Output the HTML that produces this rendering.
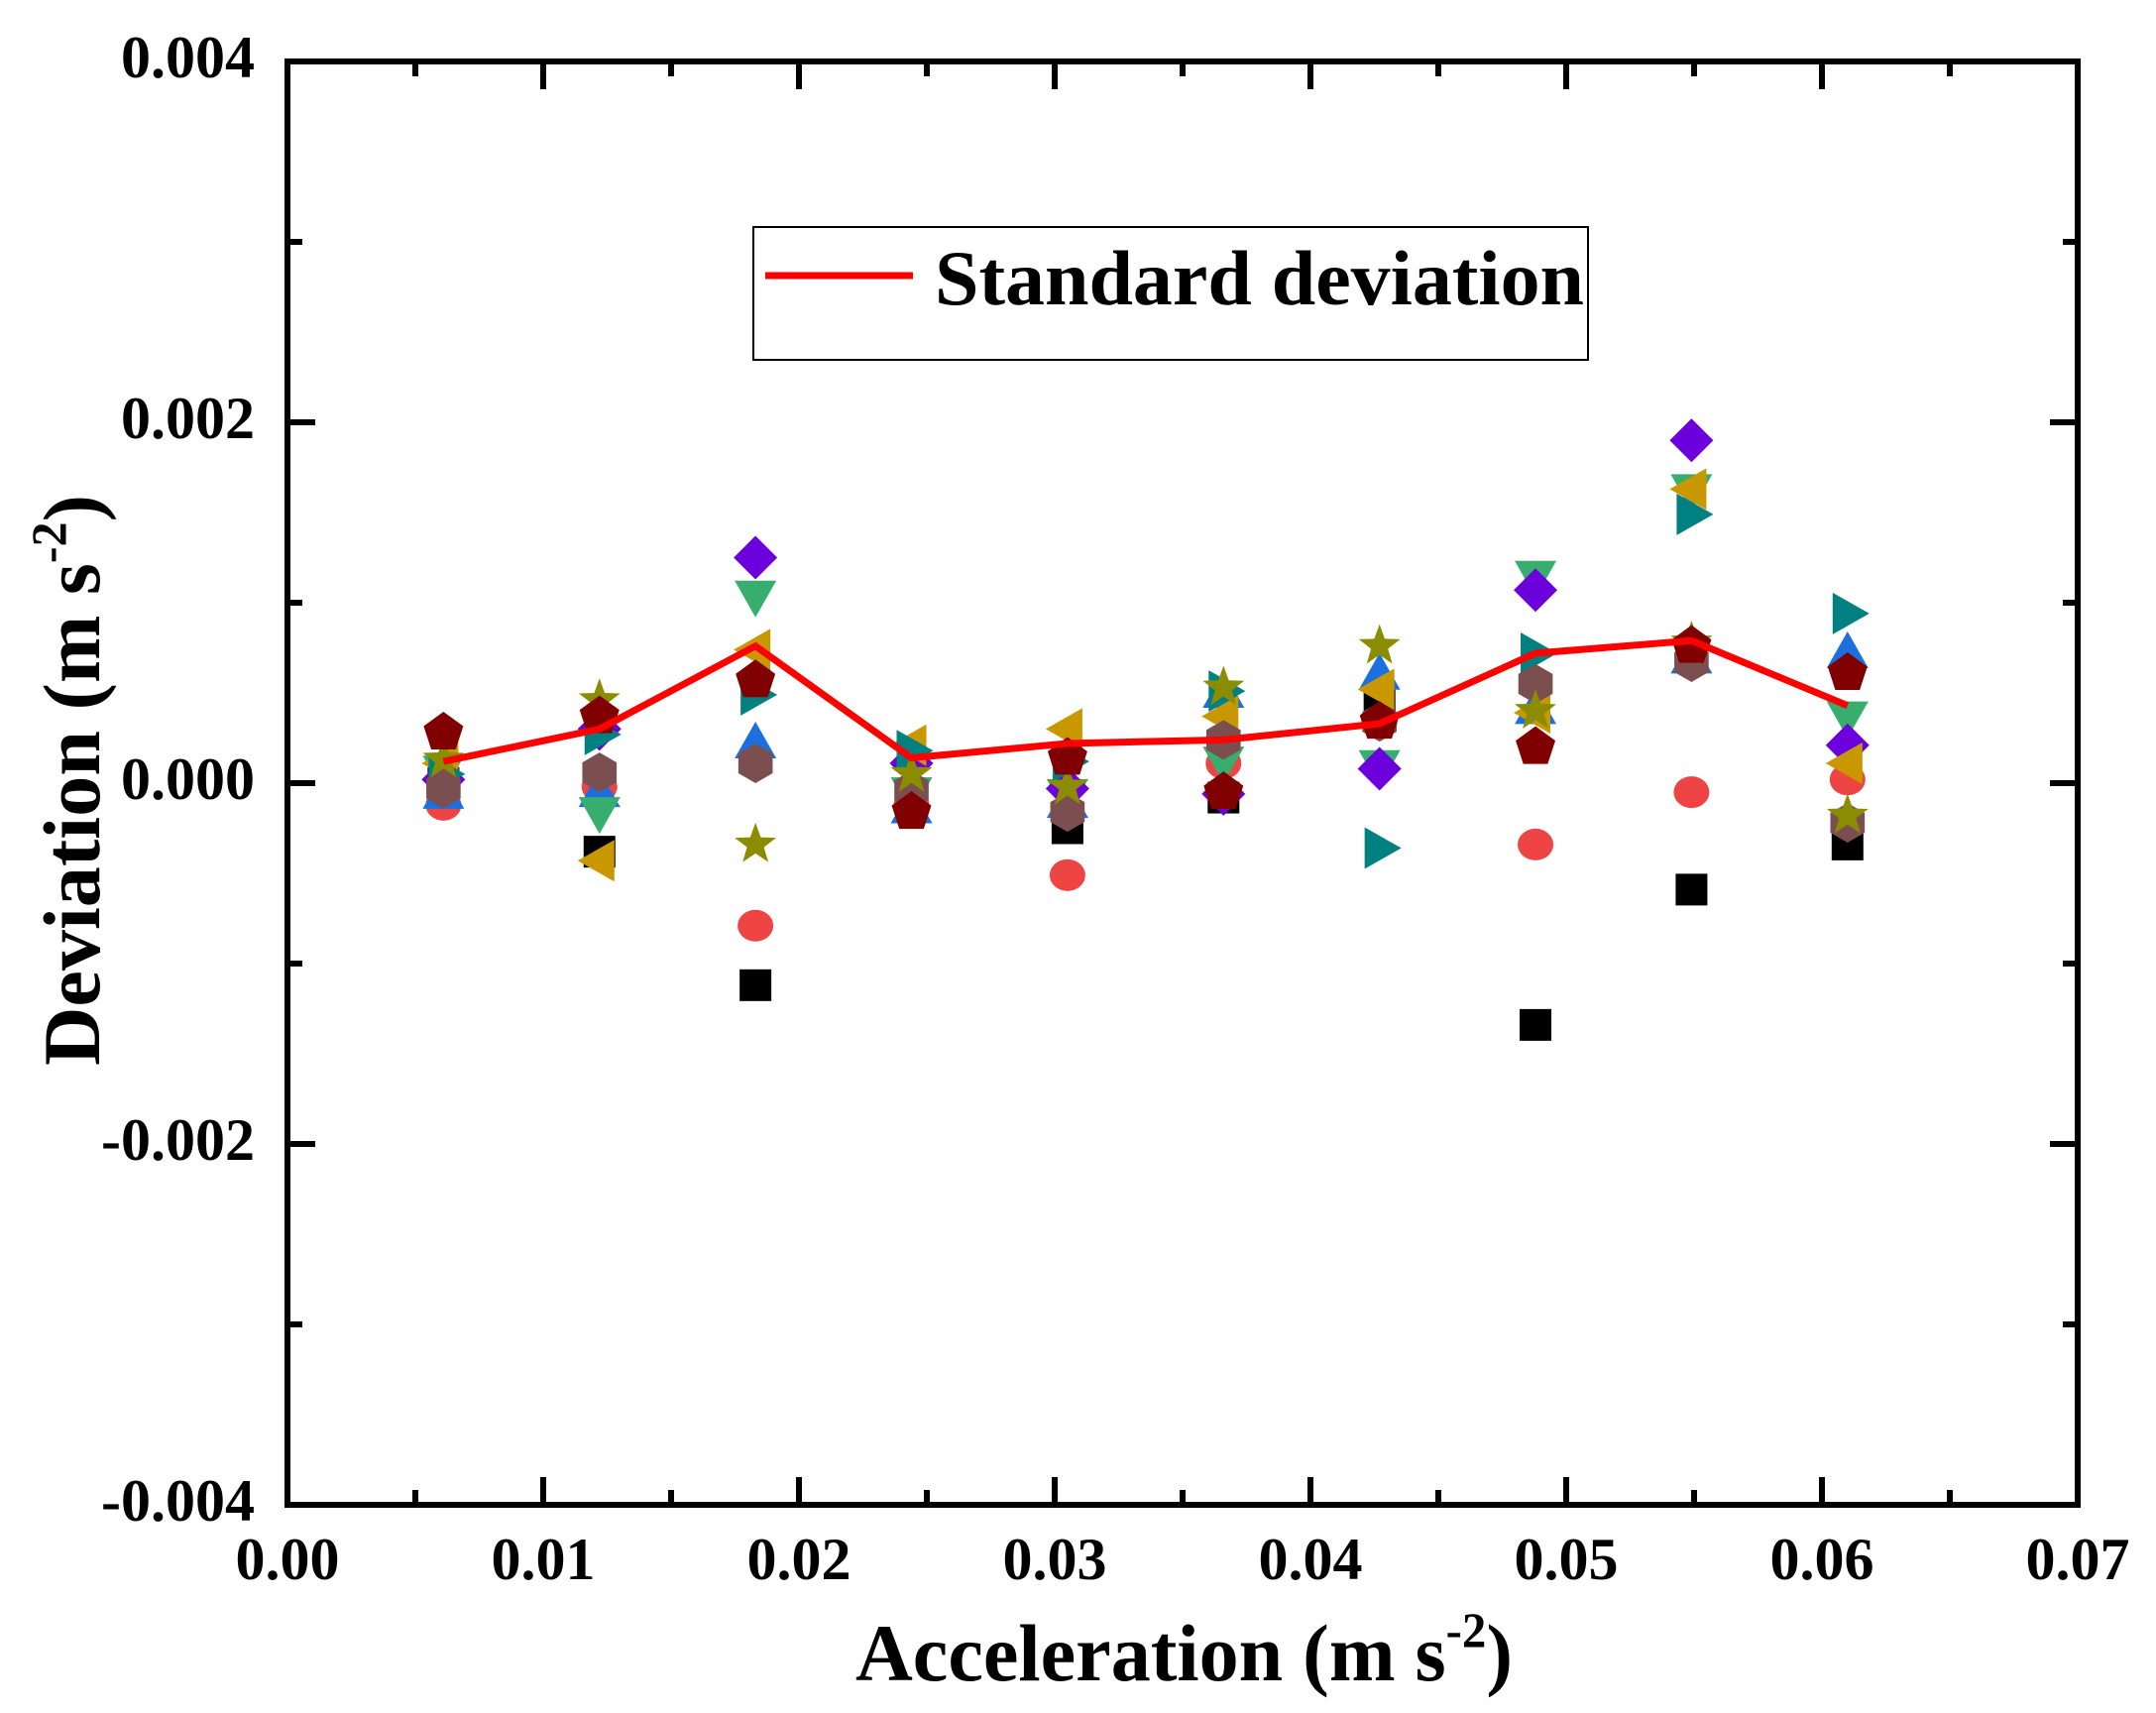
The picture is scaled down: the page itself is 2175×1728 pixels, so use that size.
<!DOCTYPE html>
<html><head><meta charset="utf-8"><style>
html,body{margin:0;padding:0;background:#fff;}
svg{display:block;}
text{font-family:"Liberation Serif",serif;font-weight:bold;fill:#000;}
</style></head><body>
<svg id="chart" width="2175" height="1728" viewBox="0 0 2175 1728" xmlns="http://www.w3.org/2000/svg">
<rect width="2175" height="1728" fill="#fff"/>
<g id="marks"></g>
<g id="axes"></g>
<g>
<rect x="760" y="229" width="842" height="134" fill="#fff" stroke="#000" stroke-width="2"/>
<line x1="772" y1="278" x2="921" y2="278" stroke="#ff0000" stroke-width="7"/>
<text x="943" y="307" font-size="78" textLength="655" lengthAdjust="spacingAndGlyphs">Standard deviation</text>
</g>
<text x="863" y="1695" font-size="82" textLength="663" lengthAdjust="spacingAndGlyphs">Acceleration (m s<tspan font-size="50" dy="-34">-2</tspan><tspan dy="34">)</tspan></text>
<text transform="translate(100,1075) rotate(-90)" font-size="82" textLength="576" lengthAdjust="spacingAndGlyphs">Deviation (m s<tspan font-size="50" dy="-34">-2</tspan><tspan dy="34">)</tspan></text>
</svg>
<script>
const categories = [0.0061, 0.0122, 0.0183, 0.0244, 0.0305, 0.0366, 0.0427, 0.0488, 0.0549, 0.0610];
const sSquare   = [0.0, -3.8, -11.2, -0.8, -2.5, -0.8, 4.6, -13.4, -5.9, -3.4];
const sCircle   = [-1.2, -0.2, -7.9, -1.2, -5.1, 1.1, 3.4, -3.4, -0.5, 0.2];
const sUp       = [-0.6, -0.5, 2.2, -1.4, -1.1, 5.0, 6.0, 4.1, 6.9, 7.2];
const sDown     = [0.7, -1.6, 10.4, -0.5, -0.6, 1.2, 1.0, 11.5, 16.3, 3.7];
const sDiamond  = [0.2, 3.0, 12.5, 1.1, -0.3, -0.6, 0.8, 10.7, 19.0, 2.1];
const sLeft     = [1.1, -4.3, 7.4, 2.1, 3.0, 3.7, 5.2, 3.9, 16.3, 1.1];
const sRight    = [0.5, 2.7, 4.9, 1.8, 1.2, 5.1, -3.6, 7.2, 14.9, 9.4];
const sHex      = [-0.3, 0.6, 1.1, -0.4, -1.6, 2.4, 3.4, 5.5, 6.7, -2.2];
const sStar     = [1.3, 4.6, -3.4, 0.5, -0.2, 5.3, 7.6, 4.0, 7.8, -1.8];
const sPent     = [2.8, 3.7, 5.7, -1.6, 1.4, -0.5, 3.4, 2.0, 7.6, 6.1];
const stdDev    = [1.2, 3.0, 7.6, 1.4, 2.2, 2.4, 3.3, 7.2, 7.9, 4.3];
const xTicks = ["0.00","0.01","0.02","0.03","0.04","0.05","0.06","0.07"];
const yTicks = ["-0.004","-0.002","0.000","0.002","0.004"];

const NS = "http://www.w3.org/2000/svg";
const L = 290, R = 2096, T = 62, B = 1518;
const xs = v => L + (v - 0) / 0.07 * (R - L);
const ys = v => B - (v + 0.004) / 0.008 * (B - T);
const marks = document.getElementById("marks");
const axes = document.getElementById("axes");
function mk(tag, attrs, parent){ const e = document.createElementNS(NS, tag); for (const k in attrs) e.setAttribute(k, attrs[k]); parent.appendChild(e); return e; }
function poly(cx, cy, pts){ return pts.map(p => (cx + p[0]) + "," + (cy + p[1])).join(" "); }
function regular(n, r, rot){ const a = []; for (let i = 0; i < n; i++){ const t = rot + i * 2 * Math.PI / n; a.push([r * Math.cos(t), r * Math.sin(t)]); } return a; }
function starPts(r1, r2){ const a = []; for (let i = 0; i < 10; i++){ const t = -Math.PI/2 + i * Math.PI / 5; const r = i % 2 ? r2 : r1; a.push([r*Math.cos(t), r*Math.sin(t)]); } return a; }
const shapes = {
  square: (cx, cy, c) => mk("rect", {x: cx-16, y: cy-16, width: 32, height: 32, fill: c}, marks),
  circle: (cx, cy, c) => mk("ellipse", {cx: cx, cy: cy, rx: 18, ry: 16, fill: c}, marks),
  up: (cx, cy, c) => mk("polygon", {points: poly(cx, cy, [[0,-22],[21,15],[-21,15]]), fill: c}, marks),
  down: (cx, cy, c) => mk("polygon", {points: poly(cx, cy, [[0,22],[21,-15],[-21,-15]]), fill: c}, marks),
  diamond: (cx, cy, c) => mk("polygon", {points: poly(cx, cy, [[0,-22],[22,0],[0,22],[-22,0]]), fill: c}, marks),
  left: (cx, cy, c) => mk("polygon", {points: poly(cx, cy, [[-22,0],[15,-21],[15,21]]), fill: c}, marks),
  right: (cx, cy, c) => mk("polygon", {points: poly(cx, cy, [[22,0],[-15,-21],[-15,21]]), fill: c}, marks),
  hex: (cx, cy, c) => mk("polygon", {points: poly(cx, cy, regular(6, 20, -Math.PI/2)), fill: c}, marks),
  star: (cx, cy, c) => mk("polygon", {points: poly(cx, cy, starPts(22, 9)), fill: c}, marks),
  pent: (cx, cy, c) => mk("polygon", {points: poly(cx, cy, regular(5, 21, -Math.PI/2)), fill: c}, marks)
};
const seriesList = [
  ["square", sSquare, "#000000"], ["circle", sCircle, "#ef4444"], ["up", sUp, "#1c6fdf"],
  ["down", sDown, "#37ad6e"], ["diamond", sDiamond, "#6c00dc"], ["left", sLeft, "#c99700"],
  ["right", sRight, "#008080"], ["hex", sHex, "#7b4f4f"], ["star", sStar, "#8c8c00"], ["pent", sPent, "#800000"]
];
seriesList.forEach(s => {
  const g = mk("g", {}, marks);
  
  
  s[1].forEach((v, i) => {
    const e = shapes[s[0]](xs(categories[i]), ys(v * 1e-4), s[2]);
    g.appendChild(e);
    
    
  });
});
const linePts = stdDev.map((v, i) => xs(categories[i]) + "," + ys(v * 1e-4)).join(" ");
const ln = mk("polyline", {points: linePts, fill: "none", stroke: "#ff0000", "stroke-width": 7, "stroke-linejoin": "miter"}, marks);



// frame
const fr = mk("rect", {x: L, y: T, width: R - L, height: B - T, fill: "none", stroke: "#000", "stroke-width": 6}, axes);


// x ticks
for (let i = 0; i <= 14; i++) {
  const v = i * 0.005, x = xs(v), len = i % 2 ? 15 : 28;
  const t1 = mk("line", {x1: x, y1: B, x2: x, y2: B - len, stroke: "#000", "stroke-width": 6}, axes);
  
  
  const t2 = mk("line", {x1: x, y1: T, x2: x, y2: T + len, stroke: "#000", "stroke-width": 6}, axes);
  
  
}
xTicks.forEach((lab, i) => {
  const t = mk("text", {x: xs(i * 0.01), y: 1593, "font-size": 60, "text-anchor": "middle"}, axes);
  t.textContent = lab;
  
  
});
// y ticks
for (let i = 0; i <= 8; i++) {
  const v = -0.004 + i * 0.001, y = ys(v), len = i % 2 ? 15 : 28;
  const t1 = mk("line", {x1: L, y1: y, x2: L + len, y2: y, stroke: "#000", "stroke-width": 6}, axes);
  
  
  const t2 = mk("line", {x1: R, y1: y, x2: R - len, y2: y, stroke: "#000", "stroke-width": 6}, axes);
  
  
}
yTicks.forEach((lab, i) => {
  const t = mk("text", {x: 257, y: ys(-0.004 + i * 0.002) + 16, "font-size": 60, "text-anchor": "end"}, axes);
  t.textContent = lab;
  
  
});
</script>
</body></html>
